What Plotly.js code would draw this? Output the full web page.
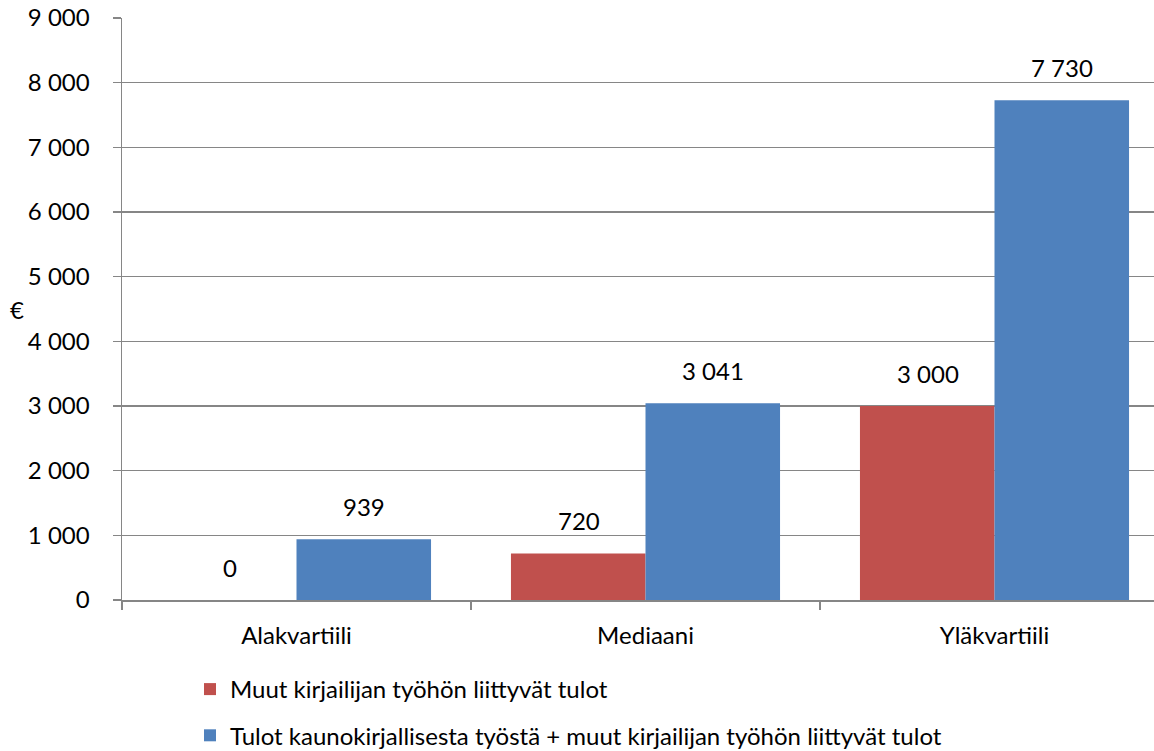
<!DOCTYPE html>
<html>
<head>
<meta charset="utf-8">
<script src="https://cdn.plot.ly/plotly-3.0.1.min.js"></script>
<style>html,body{margin:0;padding:0;overflow:hidden;background:#fff}</style>
</head>
<body>
<div id="chart"></div>
<script>
const categories = ["Alakvartiili", "Mediaani", "Yläkvartiili"];
const seriesNames = ["Muut kirjailijan työhön liittyvät tulot", "Tulot kaunokirjallisesta työstä + muut kirjailijan työhön liittyvät tulot"];
const muutTulot = [0, 720, 3000];
const yhteensa = [939, 3041, 7730];
const yTicks = [0, 1000, 2000, 3000, 4000, 5000, 6000, 7000, 8000, 9000];

const FONT = "Lato, 'Open Sans', sans-serif";
const fs = 24;

function fmt(v) {
  return String(v).replace(/\B(?=(\d{3})+(?!\d))/g, " ");
}

const traces = [
  {type: "bar", name: seriesNames[0], x: categories, y: muutTulot, marker: {color: "#C0504D"}, legendgroup: "a", hoverinfo: "skip"},
  {type: "bar", name: seriesNames[1], x: categories, y: yhteensa, marker: {color: "#4F81BD"}, legendgroup: "b", hoverinfo: "skip"}
];

const annotations = [];
const half = 67;
[muutTulot, yhteensa].forEach((arr, si) => {
  arr.forEach((v, i) => {
    annotations.push({
      x: categories[i], y: v, xref: "x", yref: "y",
      text: fmt(v), showarrow: false,
      xshift: si === 0 ? -half : half, yshift: 16, yanchor: "bottom",
      font: {family: FONT, size: fs, color: "#000"}
    });
  });
});
annotations.push({
  text: "€", xref: "paper", yref: "paper", x: -0.1, y: 0.5, xanchor: "center", yanchor: "middle",
  showarrow: false, font: {family: FONT, size: fs, color: "#000"}
});

const layout = {
  width: 1170, height: 751,
  margin: {l: 122, r: 1, t: 18, b: 151, autoexpand: false},
  paper_bgcolor: "#fff", plot_bgcolor: "#fff",
  barmode: "group", bargap: 0.229, bargroupgap: 0,
  font: {family: FONT, size: fs, color: "#000"},
  showlegend: true,
  legend: {
    orientation: "v", xref: "container", yref: "container",
    x: 190 / 1170, y: 1 - 667 / 751, xanchor: "left", yanchor: "top",
    tracegroupgap: 12, font: {family: FONT, size: fs, color: "#000"},
    bgcolor: "rgba(0,0,0,0)"
  },
  xaxis: {
    type: "category", range: [-0.5, 2.5], tickson: "boundaries", ticks: "outside", ticklen: 8,
    tickcolor: "#868686", tickwidth: 1.5, showline: true, linecolor: "#868686", linewidth: 1.5,
    showgrid: false, zeroline: false, fixedrange: true, tickangle: 0, automargin: false,
    ticklabelstandoff: 14,
    tickfont: {family: FONT, size: fs, color: "#000"}
  },
  yaxis: {
    range: [0, 9000], tickvals: yTicks, ticktext: yTicks.map(fmt),
    ticks: "outside", ticklen: 8, tickcolor: "#868686", tickwidth: 1.5,
    showline: true, linecolor: "#868686", linewidth: 1.5, automargin: false,
    showgrid: true, gridcolor: "#868686", gridwidth: 1.5, zeroline: false, fixedrange: true,
    ticklabelstandoff: 18,
    tickfont: {family: FONT, size: fs, color: "#000"}
  },
  annotations: annotations
};

Plotly.newPlot("chart", traces, layout, {displayModeBar: false, staticPlot: true});
</script>
</body>
</html>
